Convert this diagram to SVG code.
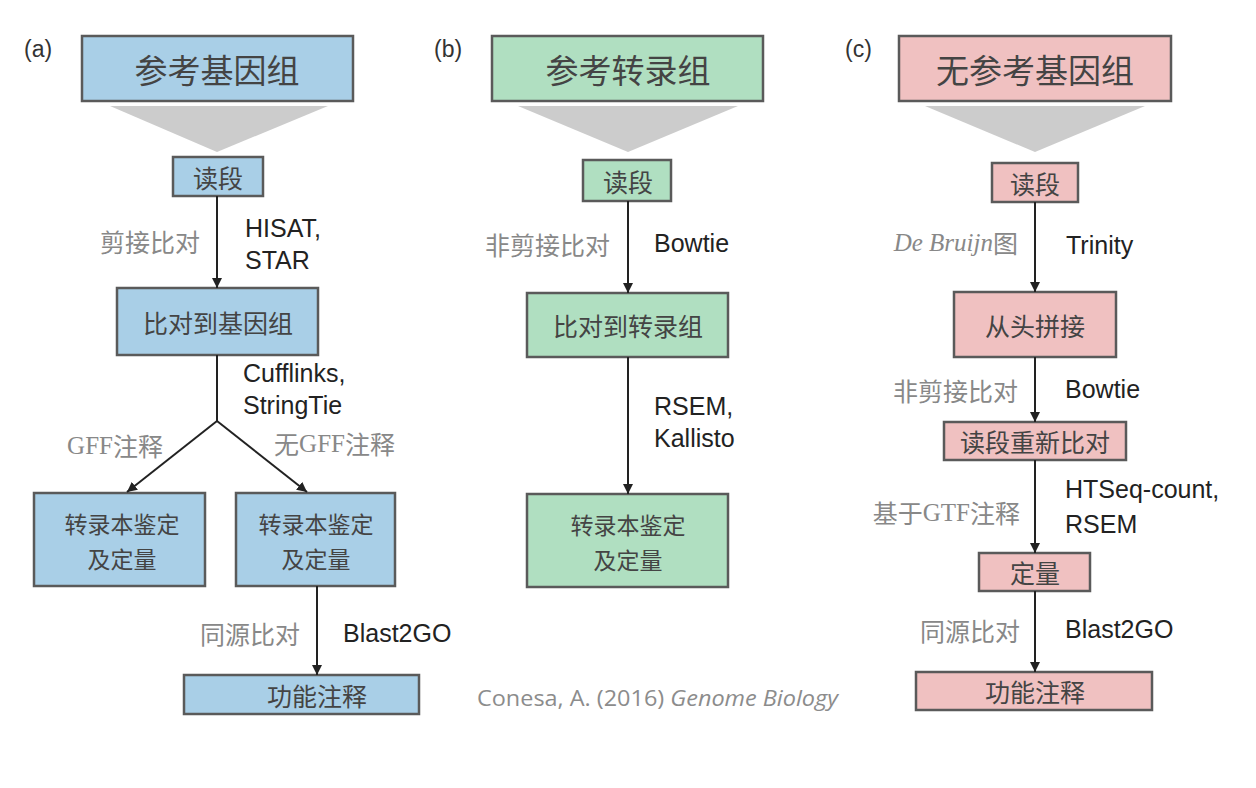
<svg xmlns="http://www.w3.org/2000/svg" width="1256" height="788" viewBox="0 0 1256 788">
<defs>
<marker id="ah" viewBox="0 0 10 10" refX="10" refY="5" markerWidth="10" markerHeight="10" markerUnits="userSpaceOnUse" orient="auto">
<path d="M0,0 L10,5 L0,10 Z" fill="#222"/>
</marker>
<style>
.blue{fill:#a9cfe7;stroke:#5a5a5a;stroke-width:2.5}
.green{fill:#b0dfc1;stroke:#5a5a5a;stroke-width:2.5}
.pink{fill:#f0c1c1;stroke:#5a5a5a;stroke-width:2.5}
.tri{fill:#cccccc}
.cn{font-family:"Noto Sans CJK SC",sans-serif;fill:#444;text-anchor:middle;dominant-baseline:central}
.big{font-size:33px}
.mid{font-size:25px}
.two{font-size:23px}
.el{font-family:"Noto Sans CJK SC",sans-serif;fill:#888;font-size:25px;text-anchor:end;dominant-baseline:central}
.lat{font-family:"Liberation Sans",Arial,sans-serif;fill:#222;font-size:25px}
.pl{font-family:"Liberation Sans",Arial,sans-serif;fill:#333;font-size:23px}
.conn line{stroke:#222;stroke-width:2}
.ser{font-family:"Liberation Serif","Noto Sans CJK SC",serif}
</style>
</defs>
<rect width="1256" height="788" fill="#fff"/>

<!-- Panel labels -->
<text class="pl" x="24" y="57">(a)</text>
<text class="pl" x="434" y="57">(b)</text>
<text class="pl" x="845" y="57">(c)</text>

<!-- Panel a -->
<g id="a-ref"><rect class="blue" x="82" y="36" width="271" height="65"/><text class="cn big" x="217" y="69">参考基因组</text></g>
<polygon class="tri" points="110,106 328,106 217,152"/>
<g id="a-reads"><rect class="blue" x="173" y="157" width="90" height="39"/><text class="cn mid" x="218" y="177">读段</text></g>
<g id="a-align"><rect class="blue" x="117" y="288" width="201" height="67"/><text class="cn mid" x="218" y="322">比对到基因组</text></g>
<g id="a-tx1"><rect class="blue" x="34" y="493" width="171" height="93"/><text class="cn two" x="122" y="523">转录本鉴定</text><text class="cn two" x="122" y="558">及定量</text></g>
<g id="a-tx2"><rect class="blue" x="236" y="493" width="159" height="93"/><text class="cn two" x="316" y="523">转录本鉴定</text><text class="cn two" x="316" y="558">及定量</text></g>
<g id="a-func"><rect class="blue" x="184" y="675" width="235" height="39"/><text class="cn mid" x="317" y="695">功能注释</text></g>

<!-- Panel b -->
<g id="b-ref"><rect class="green" x="492" y="36" width="271" height="65"/><text class="cn big" x="628" y="69">参考转录组</text></g>
<polygon class="tri" points="518,106 738,106 628,152"/>
<g id="b-reads"><rect class="green" x="583" y="160" width="88" height="41"/><text class="cn mid" x="628" y="181">读段</text></g>
<g id="b-align"><rect class="green" x="527" y="293" width="201" height="64"/><text class="cn mid" x="628" y="325">比对到转录组</text></g>
<g id="b-tx"><rect class="green" x="527" y="494" width="201" height="93"/><text class="cn two" x="628" y="524">转录本鉴定</text><text class="cn two" x="628" y="559">及定量</text></g>

<!-- Panel c -->
<g id="c-ref"><rect class="pink" x="899" y="36" width="272" height="65"/><text class="cn big" x="1035" y="69">无参考基因组</text></g>
<polygon class="tri" points="925,106 1145,106 1035,152"/>
<g id="c-reads"><rect class="pink" x="992" y="163" width="86" height="39"/><text class="cn mid" x="1035" y="183">读段</text></g>
<g id="c-asm"><rect class="pink" x="954" y="292" width="162" height="65"/><text class="cn mid" x="1035" y="325">从头拼接</text></g>
<g id="c-realign"><rect class="pink" x="944" y="422" width="182" height="38"/><text class="cn mid" x="1035" y="441">读段重新比对</text></g>
<g id="c-quant"><rect class="pink" x="979" y="553" width="111" height="38"/><text class="cn mid" x="1035" y="572">定量</text></g>
<g id="c-func"><rect class="pink" x="916" y="672" width="236" height="38"/><text class="cn mid" x="1035" y="691">功能注释</text></g>

<!-- Connectors -->
<g id="connectors" class="conn">
<line x1="217" y1="196" x2="217" y2="288" marker-end="url(#ah)"/>
<line x1="217" y1="355" x2="217" y2="421"/>
<line x1="217" y1="421" x2="127" y2="492" marker-end="url(#ah)"/>
<line x1="217" y1="421" x2="307" y2="492" marker-end="url(#ah)"/>
<line x1="317" y1="586" x2="317" y2="675" marker-end="url(#ah)"/>
<line x1="628" y1="201" x2="628" y2="293" marker-end="url(#ah)"/>
<line x1="628" y1="357" x2="628" y2="494" marker-end="url(#ah)"/>
<line x1="1035" y1="202" x2="1035" y2="292" marker-end="url(#ah)"/>
<line x1="1035" y1="357" x2="1035" y2="422" marker-end="url(#ah)"/>
<line x1="1035" y1="460" x2="1035" y2="553" marker-end="url(#ah)"/>
<line x1="1035" y1="591" x2="1035" y2="672" marker-end="url(#ah)"/>
</g>

<!-- Edge labels panel a -->
<text class="el" x="200" y="241">剪接比对</text>
<text class="lat" x="245" y="237">HISAT,</text>
<text class="lat" x="245" y="269">STAR</text>
<text class="lat" x="243" y="382">Cufflinks,</text>
<text class="lat" x="243" y="414">StringTie</text>
<text class="el" x="163" y="445"><tspan class="ser">GFF</tspan>注释</text>
<text class="el" x="395" y="443">无<tspan class="ser">GFF</tspan>注释</text>
<text class="el" x="300" y="633">同源比对</text>
<text class="lat" x="343" y="642">Blast2GO</text>

<!-- Edge labels panel b -->
<text class="el" x="610" y="244">非剪接比对</text>
<text class="lat" x="654" y="252">Bowtie</text>
<text class="lat" x="654" y="415">RSEM,</text>
<text class="lat" x="654" y="447">Kallisto</text>

<!-- Edge labels panel c -->
<text class="el" x="1018" y="242"><tspan class="ser" font-style="italic">De Bruijn</tspan>图</text>
<text class="lat" x="1066" y="254">Trinity</text>
<text class="el" x="1018" y="390">非剪接比对</text>
<text class="lat" x="1065" y="398">Bowtie</text>
<text class="el" x="1020" y="512">基于<tspan class="ser">GTF</tspan>注释</text>
<text class="lat" x="1065" y="498">HTSeq-count,</text>
<text class="lat" x="1065" y="533">RSEM</text>
<text class="el" x="1020" y="630">同源比对</text>
<text class="lat" x="1065" y="638">Blast2GO</text>

<!-- Citation -->
<text x="477" y="706" font-family="'Open Sans',sans-serif" font-size="21" fill="#8c8c8c" textLength="361" lengthAdjust="spacingAndGlyphs">Conesa, A. (2016) <tspan font-style="italic">Genome Biology</tspan></text>
</svg>
